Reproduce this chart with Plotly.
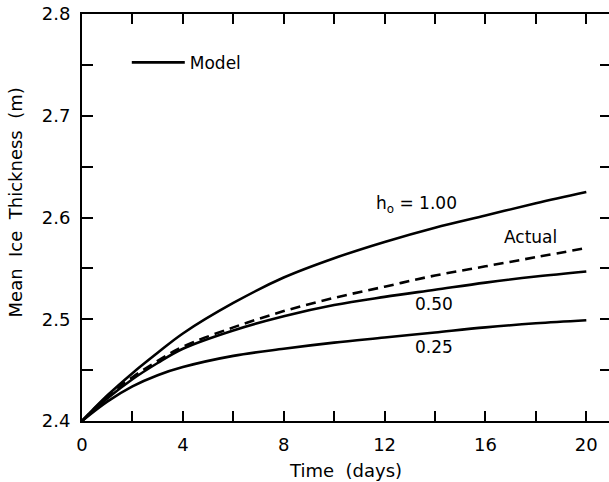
import plotly.graph_objects as go

days = [0, 1, 2, 3, 4, 6, 8, 10, 12, 14, 16, 18, 20]
h100 = [2.400, 2.425, 2.447, 2.467, 2.486, 2.516, 2.541, 2.560, 2.576, 2.590, 2.602, 2.614, 2.625]
actual = [2.400, 2.424, 2.443, 2.459, 2.473, 2.492, 2.508, 2.521, 2.532, 2.543, 2.552, 2.561, 2.570]
h050 = [2.400, 2.422, 2.441, 2.457, 2.471, 2.489, 2.503, 2.514, 2.522, 2.529, 2.536, 2.542, 2.547]
h025 = [2.400, 2.419, 2.434, 2.445, 2.453, 2.464, 2.471, 2.477, 2.482, 2.487, 2.492, 2.496, 2.499]

x_ticks = [0, 2, 4, 6, 8, 10, 12, 14, 16, 18, 20]
x_labels = ["0", "", "4", "", "8", "", "12", "", "16", "", "20"]
y_ticks = [2.4, 2.45, 2.5, 2.55, 2.6, 2.65, 2.7, 2.75, 2.8]
y_labels = ["2.4", "", "2.5", "", "2.6", "", "2.7", "", "2.8"]

curve_labels = ["h<sub>o</sub> = 1.00", "Actual", "0.50", "0.25"]
label_x = [13.25, 17.8, 13.95, 13.95]
label_y = [2.613, 2.581, 2.515, 2.473]

FONT = "DejaVu Sans, Verdana, sans-serif"
LW = 2.6

fig = go.Figure()
fig.add_trace(go.Scatter(x=days, y=h100, mode="lines", name="Model",
                         line=dict(color="black", width=LW, shape="spline"), showlegend=True))
fig.add_trace(go.Scatter(x=days, y=actual, mode="lines", name="Actual",
                         line=dict(color="black", width=LW, shape="spline", dash="10px,6px"), showlegend=False))
fig.add_trace(go.Scatter(x=days, y=h050, mode="lines", name="0.50",
                         line=dict(color="black", width=LW, shape="spline"), showlegend=False))
fig.add_trace(go.Scatter(x=days, y=h025, mode="lines", name="0.25",
                         line=dict(color="black", width=LW, shape="spline"), showlegend=False))
# invisible trace to carry the right-hand tick axis
fig.add_trace(go.Scatter(x=[days[0]], y=[h100[0]], yaxis="y2", mode="markers",
                         marker=dict(opacity=0), showlegend=False, hoverinfo="skip"))

for t, xv, yv in zip(curve_labels, label_x, label_y):
    fig.add_annotation(x=xv, y=yv, text=t, showarrow=False, xanchor="center", yanchor="middle",
                       font=dict(family=FONT, size=17, color="black"))

fig.add_annotation(x=0.5, y=-0.122, xref="paper", yref="paper", text="Time  (days)", showarrow=False,
                   xanchor="center", yanchor="middle", font=dict(family=FONT, size=18, color="black"))
fig.add_annotation(x=-0.126, y=0.536, xref="paper", yref="paper", text="Mean  Ice  Thickness  (m)",
                   showarrow=False, textangle=-90, xanchor="center", yanchor="middle",
                   font=dict(family=FONT, size=18, color="black"))

fig.update_layout(
    width=609, height=482, autosize=False,
    margin=dict(l=82, r=0, t=14, b=61),
    paper_bgcolor="white", plot_bgcolor="white",
    font=dict(family=FONT, size=18, color="black"),
    xaxis=dict(range=[0, 20.9], tickmode="array", tickvals=x_ticks, ticktext=x_labels,
               ticks="inside", ticklen=10, tickwidth=2, tickcolor="black",
               showline=True, linewidth=2, linecolor="black", mirror="ticks",
               showgrid=False, zeroline=False, ticklabelstandoff=6,
               tickfont=dict(family=FONT, size=18, color="black")),
    yaxis=dict(range=[2.4, 2.8], tickmode="array", tickvals=y_ticks, ticktext=y_labels,
               ticks="inside", ticklen=11, tickwidth=2, tickcolor="black",
               showline=True, linewidth=2, linecolor="black", mirror=False,
               showgrid=False, zeroline=False, ticklabelstandoff=6,
               tickfont=dict(family=FONT, size=18, color="black")),
    yaxis2=dict(range=[2.4, 2.8], overlaying="y", side="right", tickmode="array", tickvals=y_ticks,
                showticklabels=False, ticks="inside", ticklen=9, tickwidth=2, tickcolor="black",
                showline=False, showgrid=False, zeroline=False),
    legend=dict(x=0.085, y=0.88, xanchor="left", yanchor="middle", bgcolor="rgba(0,0,0,0)",
                itemwidth=53, font=dict(family=FONT, size=17, color="black")),
)

fig.write_html("out.html")
